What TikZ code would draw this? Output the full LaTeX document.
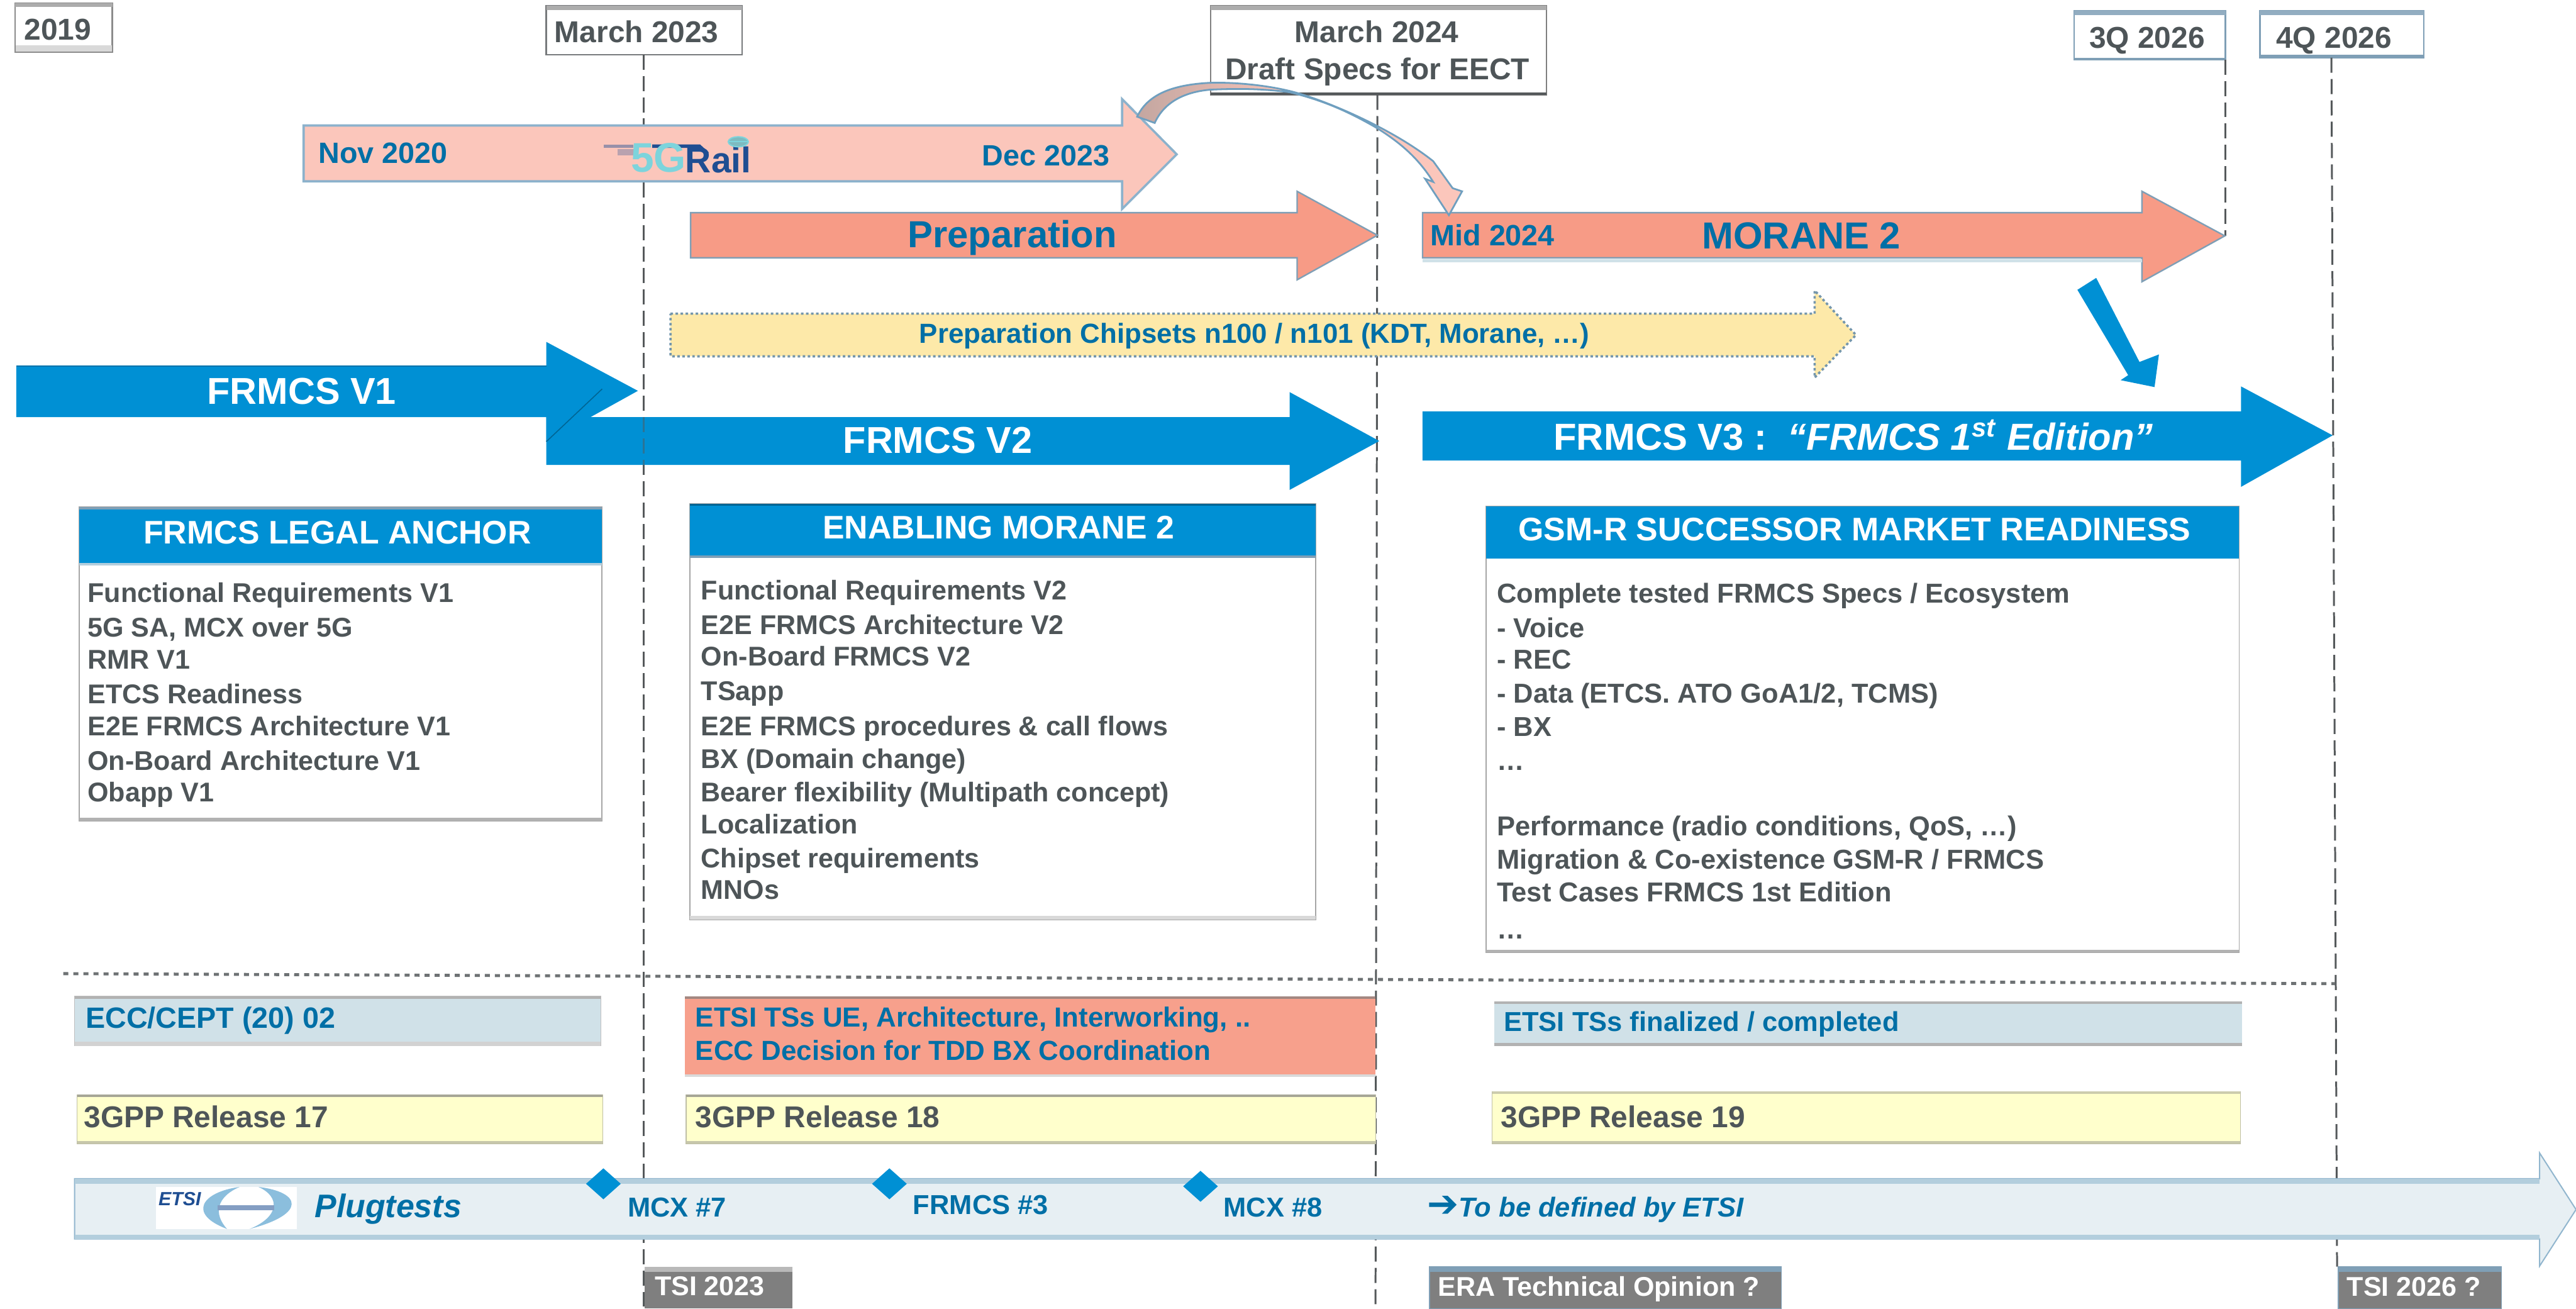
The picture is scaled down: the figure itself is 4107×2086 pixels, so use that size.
\documentclass[tikz,border=0pt]{standalone}
\usepackage{fontspec}
\setmainfont{Liberation Sans}
\newfontfamily\djv{DejaVu Sans}
\usetikzlibrary{shapes.geometric}
\definecolor{fblue}{HTML}{0090D4}
\definecolor{tblue}{HTML}{006FA6}
\definecolor{tgrey}{HTML}{4E5558}
\definecolor{salmon}{HTML}{F79B86}
\definecolor{pinkb}{HTML}{FBC6BB}
\definecolor{edgeb}{HTML}{7F9FB6}
\definecolor{edgel}{HTML}{6F9FBF}
\definecolor{yelarrow}{HTML}{FDE9A9}
\definecolor{yelbox}{HTML}{FFFFCC}
\definecolor{lblue}{HTML}{D0E1E8}
\definecolor{plug}{HTML}{E7EFF3}
\definecolor{plugb}{HTML}{B3CEDD}
\definecolor{tsi}{HTML}{7F7F7F}
\definecolor{dashc}{HTML}{55595B}
\definecolor{railb}{HTML}{1F4E92}
\definecolor{railt}{HTML}{7DD4DC}
\definecolor{etsic}{HTML}{8BBEDD}
\tikzset{
 fs/.style={font=\fontsize{#1}{#1}\selectfont\bfseries,text height=0.72*#1 pt,text depth=0pt,inner sep=0pt},
 dk/.style={text=tgrey},
 bl/.style={text=tblue},
 wh/.style={text=white},
 vdash/.style={draw=dashc,line width=0.75pt,dash pattern=on 6pt off 2.5pt},
 panelbase/.style={inner sep=0pt,outer sep=0pt,rectangle},
}
\newcommand{\panel}[6]{%
 \pgfmathsetmacro\pw{(#4-#2)*0.25}\pgfmathsetmacro\ph{(#5-#3)*0.25}%
 \node[panelbase,#6,minimum width=\pw pt,minimum height=\ph pt,anchor=north west] (#1) at (#2,#3) {};}
% x0 xbase xtip ytop ybot headtop headbot tipy
\newcommand{\blockarrow}[9]{%
 \path[#9] (#1,#4) -- (#2,#4) -- (#2,#6) -- (#3,#8) -- (#2,#7) -- (#2,#5) -- (#1,#5) -- cycle;}
\begin{document}
\begin{tikzpicture}[x=0.25pt,y=-0.25pt]
\useasboundingbox (0,0) rectangle (4107,2086);
\fill[white] (0,0) rectangle (4107,2086);
% date boxes
\panel{d2019}{24}{5}{179}{83}{draw=gray!90,line width=0.7pt,fill=white}
\fill[gray!65] (24,5) rectangle (179,11);
\fill[gray!30] (25,72) rectangle (178,82);
\node[fs=12,dk] (t2019) at (92,46) {2019};
\panel{d2023}{871}{9}{1183}{87}{draw=dashc!80,line width=0.6pt,fill=white}
\fill[gray!65] (871,9) rectangle (1183,16);
\node[fs=12,dk] (t2023) at (1015,50) {March 2023};
\panel{d2024}{1930}{9}{2466}{151}{draw=gray,line width=0.5pt,fill=white}
\fill[gray!65] (1930,9) rectangle (2466,16);
\fill[dashc] (1930,147) rectangle (2466,151);
\node[fs=12,dk] (t2024a) at (2195,50) {March 2024};
\node[fs=12,dk] (t2024b) at (2196,110) {Draft Specs for EECT};
\panel{d3q}{3307}{17}{3548}{95}{draw=edgeb,line width=0.6pt,fill=white}
\fill[edgeb!85] (3307,17) rectangle (3548,24);
\fill[edgeb] (3307,92) rectangle (3548,95);
\node[fs=12,dk] (t3q) at (3423,59) {3Q 2026};
\panel{d4q}{3603}{17}{3864}{92}{draw=edgeb,line width=0.6pt,fill=white}
\fill[edgeb!85] (3603,17) rectangle (3864,24);
\fill[edgeb] (3603,87) rectangle (3864,92);
\node[fs=12,dk] (t4q) at (3721,59) {4Q 2026};
% dashed verticals
\coordinate (l23a) at (1026,87);\coordinate (l23b) at (1026,2086);
\coordinate (l24a) at (2196,151);\coordinate (l24b) at (2193,2086);
\coordinate (l3qa) at (3548,95);\coordinate (l3qb) at (3548,376);
\coordinate (l4qa) at (3717,92);\coordinate (l4qb) at (3726,2019);
\draw[vdash] (l23a) -- (l23b);
\draw[vdash] (l24a) -- (l24b);
\draw[vdash] (l3qa) -- (l3qb);
\draw[vdash] (l4qa) -- (l4qb);
% horizontal dotted
\coordinate (hda) at (101,1552);\coordinate (hdb) at (3723,1568);
\draw[dashc!85,line width=1.2pt,dash pattern=on 2pt off 2pt] (hda) -- (hdb);
% 5GRail arrow
\blockarrow{484}{1789}{1876}{200}{289}{158}{333}{246}{fill=pinkb,draw=edgel!80!white,line width=0.9pt}
\node[fs=11.7,bl,anchor=west] (tnov) at (507,243) {Nov 2020};
\node[fs=11.7,bl,anchor=west] (tdec) at (1565,247) {Dec 2023};
% logo
\draw[draw=railb!45!pinkb,line width=1.3pt] (963,233) -- (1010,233);
\draw[draw=railb!30!pinkb,line width=2.5pt] (985,243) -- (1012,243);
\draw[draw=railb,line width=1.4pt] (1040,233) -- (1115,233) -- (1128,245);
\node[fs=16.5,text=railt,anchor=west] (t5g) at (1005,250) {5G};
\node[fs=14.3,text=railb,anchor=west] (trail) at (1092,255) {Rail};
\draw[fill=railt!70!gray,draw=railt,line width=0.5pt] (1177,226) ellipse [x radius=16,y radius=8];
\draw[railt,line width=0.5pt] (1161,226) -- (1193,226);
% preparation / morane
\blockarrow{1101}{2068}{2196}{339}{411}{305}{446}{375}{fill=salmon,draw=edgeb,line width=0.6pt}
\node[fs=15,bl] (tprep) at (1614,373) {Preparation};
\blockarrow{2268}{3415}{3547}{339}{411}{305}{449}{376}{fill=salmon,draw=edgeb,line width=0.6pt}
\fill[lblue] (2268,413) rectangle (3415,418);
\node[fs=11.7,bl,anchor=west] (tmid) at (2280,375) {Mid 2024};
\node[fs=15,bl] (tmor) at (2872,375) {MORANE 2};
% curved arrow
\path[draw=edgel,line width=0.7pt,left color=pinkb!55!gray,right color=pinkb,middle color=pinkb]
 (1813,186) .. controls (1830,150) and (1870,135) .. (1929,132)
 .. controls (1960,131) and (2010,134) .. (2056,145)
 .. controls (2110,158) and (2220,205) .. (2285,257)
 -- (2316,300) -- (2331,305) -- (2310,343) -- (2272,285) -- (2285,290)
 .. controls (2260,250) and (2230,226) .. (2195,204)
 .. controls (2150,178) and (2110,160) .. (2056,147)
 .. controls (2010,141) and (1970,141) .. (1929,143)
 .. controls (1885,147) and (1855,165) .. (1841,196) -- cycle;
% yellow arrow
\blockarrow{1069}{2893}{2959}{500}{568}{463}{602}{534}{fill=yelarrow,draw=edgel!70!gray,line width=0.9pt,dash pattern=on 1pt off 1pt}
\node[fs=11,bl] (tchip) at (2000,531) {Preparation Chipsets n100 / n101 (KDT, Morane, …)};
% FRMCS V2 then V1
\blockarrow{871}{2056}{2199}{665}{741}{625}{781}{703}{fill=fblue}
\blockarrow{26}{871}{1017}{584}{665}{545}{704}{623}{fill=fblue}
\draw[draw=fblue!70!black,line width=0.4pt] (871,704) -- (960,620);
\draw[fblue!80!black,line width=0.5pt] (26,584) -- (871,584);
\draw[dashc,opacity=0.5,line width=0.75pt,dash pattern=on 6pt off 2.5pt] (1026,665) -- (1026,741);
\node[fs=14.9,wh] (tv1) at (481,623) {FRMCS V1};
\node[fs=14.9,wh] (tv2) at (1495,701) {FRMCS V2};
\blockarrow{2268}{3573}{3719}{656}{734}{616}{776}{694}{fill=fblue}
\node[fs=15,wh] (tv3) at (2955,696) {FRMCS V3 :\ \ \itshape “FRMCS 1\textsuperscript{st} Edition”};
% diagonal arrow
\fill[fblue] (3342,443) -- (3312,462) -- (3393,598) -- (3381,606) -- (3435,617) -- (3442,565) -- (3411,577) -- cycle;
% legal anchor
\panel{pa}{126}{808}{960}{1308}{draw=gray!70,line width=0.5pt,fill=white}
\fill[gray!60] (126,1303) rectangle (960,1308);
\fill[fblue] (126,808) rectangle (960,897);
\fill[plugb] (126,897) rectangle (960,901);
\fill[edgeb] (126,808) rectangle (960,812);
\node[fs=13,wh] (ha) at (538,848) {FRMCS LEGAL ANCHOR};
\node[fs=10.8,dk,anchor=west] (a1) at (139,945) {Functional Requirements V1};
\node[fs=10.8,dk,anchor=west] (a2) at (139,1000) {5G SA, MCX over 5G};
\node[fs=10.8,dk,anchor=west] (a3) at (139,1051) {RMR V1};
\node[fs=10.8,dk,anchor=west] (a4) at (139,1106) {ETCS Readiness};
\node[fs=10.8,dk,anchor=west] (a5) at (139,1157) {E2E FRMCS Architecture V1};
\node[fs=10.8,dk,anchor=west] (a6) at (139,1212) {On-Board Architecture V1};
\node[fs=10.8,dk,anchor=west] (a7) at (139,1262) {Obapp V1};
% enabling
\panel{pb}{1100}{803}{2098}{1466}{draw=gray!70,line width=0.5pt,fill=white}
\fill[gray!30] (1100,1460) rectangle (2098,1466);
\fill[fblue] (1100,803) rectangle (2098,885);
\fill[edgeb] (1100,885) rectangle (2098,889);
\fill[fblue!70!black] (1100,803) rectangle (2098,806);
\node[fs=13,wh] (hb) at (1592,840) {ENABLING MORANE 2};
\node[fs=10.8,dk,anchor=west] (b1) at (1117,941) {Functional Requirements V2};
\node[fs=10.8,dk,anchor=west] (b2) at (1117,996) {E2E FRMCS Architecture V2};
\node[fs=10.8,dk,anchor=west] (b3) at (1117,1046) {On-Board FRMCS V2};
\node[fs=10.8,dk,anchor=west] (b4) at (1117,1101) {TSapp};
\node[fs=10.8,dk,anchor=west] (b5) at (1117,1157) {E2E FRMCS procedures \& call flows};
\node[fs=10.8,dk,anchor=west] (b6) at (1117,1209) {BX (Domain change)};
\node[fs=10.8,dk,anchor=west] (b7) at (1117,1262) {Bearer flexibility (Multipath concept)};
\node[fs=10.8,dk,anchor=west] (b8) at (1117,1313) {Localization};
\node[fs=10.8,dk,anchor=west] (b9) at (1117,1368) {Chipset requirements};
\node[fs=10.8,dk,anchor=west] (b10) at (1117,1418) {MNOs};
% gsm-r
\panel{pc}{2369}{807}{3570}{1518}{draw=gray!70,line width=0.5pt,fill=white}
\fill[gray!60] (2369,1514) rectangle (3570,1518);
\fill[fblue] (2369,807) rectangle (3570,890);
\node[fs=13,wh] (hc) at (2957,843) {GSM-R SUCCESSOR MARKET READINESS};
\node[fs=10.9,dk,anchor=west] (c1) at (2386,945) {Complete tested FRMCS Specs / Ecosystem};
\node[fs=10.9,dk,anchor=west] (c2) at (2386,1001) {- Voice};
\node[fs=10.9,dk,anchor=west] (c3) at (2386,1051) {- REC};
\node[fs=10.9,dk,anchor=west] (c4) at (2386,1105) {- Data (ETCS. ATO GoA1/2, TCMS)};
\node[fs=10.9,dk,anchor=west] (c5) at (2386,1158) {- BX};
\node[fs=10.9,dk,anchor=west] (c6) at (2386,1212) {…};
\node[fs=10.9,dk,anchor=west] (c7) at (2386,1316) {Performance (radio conditions, QoS, …)};
\node[fs=10.9,dk,anchor=west] (c8) at (2386,1369) {Migration \& Co-existence GSM-R / FRMCS};
\node[fs=10.9,dk,anchor=west] (c9) at (2386,1422) {Test Cases FRMCS 1st Edition};
\node[fs=10.9,dk,anchor=west] (c10) at (2386,1481) {…};
% bottom rows
\panel{r1}{119}{1588}{958}{1667}{fill=lblue,draw=gray!50,line width=0.3pt}
\fill[gray!60] (119,1588) rectangle (958,1592);
\fill[gray!35] (119,1660) rectangle (958,1667);
\node[fs=11.7,bl,anchor=west] (tr1) at (136,1622) {ECC/CEPT (20) 02};
\panel{r2}{1092}{1588}{2193}{1717}{fill=salmon!95!white}
\fill[gray!70!salmon] (1092,1588) rectangle (2193,1592);
\fill[gray!30] (1092,1713) rectangle (2193,1717);
\node[fs=11,bl,anchor=west] (tr2a) at (1108,1621) {ETSI TSs UE, Architecture, Interworking, ..};
\node[fs=11,bl,anchor=west] (tr2b) at (1108,1674) {ECC Decision for TDD BX Coordination};
\panel{r3}{2382}{1596}{3575}{1667}{fill=lblue}
\fill[gray!60] (2382,1596) rectangle (3575,1600);
\fill[gray!60] (2382,1662) rectangle (3575,1667);
\node[fs=10.9,bl,anchor=west] (tr3) at (2397,1628) {ETSI TSs finalized / completed};
\panel{y1}{123}{1745}{961}{1823}{fill=yelbox,draw=gray!50!yelbox,line width=0.3pt}
\fill[gray!70!yelbox] (123,1745) rectangle (961,1749);
\fill[gray!45!yelbox] (123,1819) rectangle (961,1823);
\node[fs=12,dk,anchor=west] (ty1) at (133,1780) {3GPP Release 17};
\panel{y2}{1094}{1745}{2193}{1823}{fill=yelbox,draw=gray!50!yelbox,line width=0.3pt}
\fill[gray!70!yelbox] (1094,1745) rectangle (2193,1749);
\fill[gray!45!yelbox] (1094,1819) rectangle (2193,1823);
\node[fs=12,dk,anchor=west] (ty2) at (1108,1780) {3GPP Release 18};
\panel{y3}{2379}{1740}{3572}{1823}{fill=yelbox,draw=gray!50!yelbox,line width=0.3pt}
\fill[gray!40!yelbox] (2379,1740) rectangle (3572,1744);
\fill[gray!45!yelbox] (2379,1819) rectangle (3572,1823);
\node[fs=12,dk,anchor=west] (ty3) at (2392,1780) {3GPP Release 19};
% plugtests
\blockarrow{119}{4049}{4107}{1879}{1975}{1838}{2018}{1928}{fill=plug,draw=plugb!50!edgel,line width=0.5pt}
\fill[plugb] (119,1879) rectangle (4049,1887);
\fill[plugb] (119,1968) rectangle (4049,1975);
\fill[white] (249,1892) rectangle (473,1959);
\fill[etsic] (382,1892) .. controls (322,1900) and (298,1935) .. (362,1959) .. controls (340,1935) and (345,1908) .. cycle;
\fill[etsic] (412,1892) .. controls (480,1900) and (490,1935) .. (398,1959) .. controls (445,1940) and (448,1908) .. cycle;
\fill[railb!55!white] (347,1921) rectangle (437,1929);
\node[fs=7.6,text=railb,anchor=west] (tetsi) at (252,1911) {\itshape ETSI};
\node[fs=13,bl,anchor=west] (tplug) at (501,1922) {\itshape Plugtests};
\node[diamond,fill=fblue,inner sep=0pt,minimum width=14pt,minimum height=12.5pt,aspect=1] (m1) at (962,1887) {};
\node[diamond,fill=fblue,inner sep=0pt,minimum width=14pt,minimum height=12.5pt,aspect=1] (m2) at (1418,1887) {};
\node[diamond,fill=fblue,inner sep=0pt,minimum width=14pt,minimum height=12.5pt,aspect=1] (m3) at (1914,1891) {};
\node[fs=10.9,bl,anchor=west] (tm1) at (1000,1924) {MCX \#7};
\node[fs=10.9,bl,anchor=west] (tm2) at (1455,1920) {FRMCS \#3};
\node[fs=10.9,bl,anchor=west] (tm3) at (1950,1924) {MCX \#8};
\node[fs=10.9,bl,anchor=west] (tdef) at (2275,1924) {{\djv\fontsize{15}{15}\selectfont ➔}\itshape To be defined by ETSI};
% bottom grey tags
\panel{g1}{1028}{2019}{1263}{2086}{fill=tsi}
\fill[gray!55] (1028,2019) rectangle (1263,2027);
\node[fs=10.8,wh,anchor=west] (tg1) at (1043,2049) {TSI 2023};
\panel{g2}{2279}{2019}{2840}{2086}{fill=tsi,draw=edgeb,line width=0.4pt}
\fill[edgeb] (2279,2019) rectangle (2840,2027);
\node[fs=10.8,wh,anchor=west] (tg2) at (2292,2050) {ERA Technical Opinion ?};
\panel{g3}{3728}{2019}{3988}{2086}{fill=tsi,draw=edgeb,line width=0.4pt}
\fill[edgeb] (3728,2019) rectangle (3988,2027);
\node[fs=10.8,wh,anchor=west] (tg3) at (3741,2050) {TSI 2026 ?};
\end{tikzpicture}
\end{document}
